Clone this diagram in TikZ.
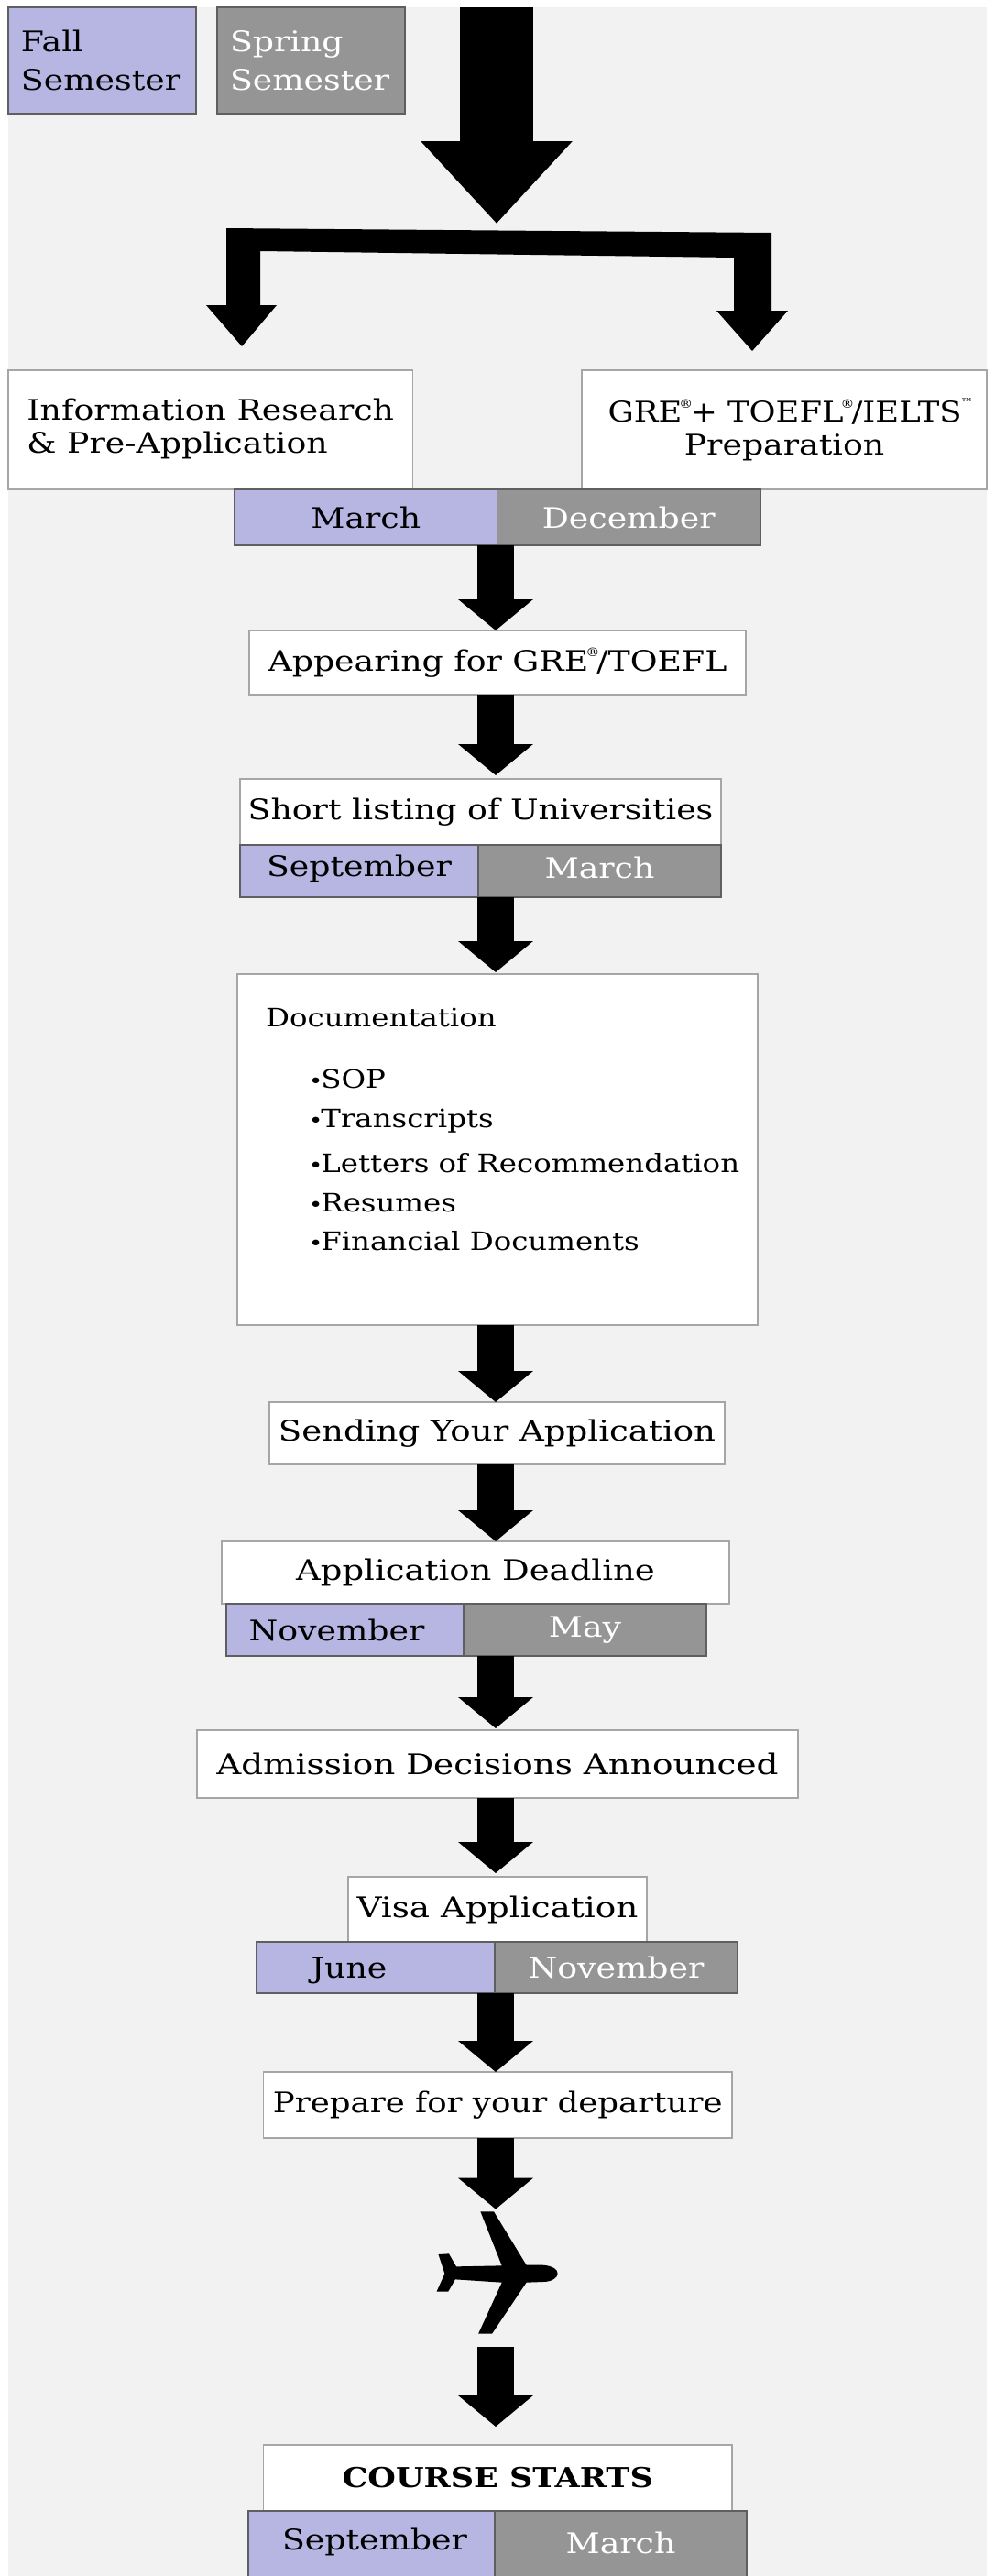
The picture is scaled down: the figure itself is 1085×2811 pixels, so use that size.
\documentclass[tikz,border=0pt]{standalone}
\usepackage{fontspec}
\setmainfont{DejaVu Serif}[FakeStretch=1.17]
\usetikzlibrary{arrows.meta}
\definecolor{bgpanel}{HTML}{F2F2F2}
\definecolor{fallc}{HTML}{B7B6E3}
\definecolor{springc}{HTML}{959595}
\definecolor{wline}{HTML}{A6A6A6}
\definecolor{dline}{HTML}{5F5F5F}
\newcommand{\fs}[2]{\fontsize{#1}{#2}\selectfont}
\newcommand{\regm}{\kern-3pt\raisebox{.5em}{\fontsize{13}{13}\selectfont ®}\kern-3pt}
\newcommand{\tmm}{\kern-1pt\raisebox{.55em}{\fontsize{12}{12}\selectfont ™}}
\newcommand{\blt}{{\fontsize{22}{22}\selectfont •}\kern-2pt}
\newcommand{\widen}[2]{\scalebox{#1}[1]{#2}}
\tikzset{
  x=1pt,y=-1pt,
  wbox/.style={draw=wline,fill=white,line width=1.5pt,inner sep=0pt,outer sep=0pt,text=black,font=\fs{31}{35},align=center},
  fall/.style={draw=dline,fill=fallc,line width=1.5pt,inner sep=0pt,outer sep=0pt,text=black,font=\fs{31}{35},align=center,text height=23pt,text depth=7pt},
  spring/.style={draw=dline,fill=springc,line width=1.5pt,inner sep=0pt,outer sep=0pt,text=white,font=\fs{31}{35},align=center,text height=23pt,text depth=7pt},
  legendtext/.style={minimum width=205pt,minimum height=116pt,text height={},text depth={},text width=177pt,align=left,anchor=north west,font=\fs{31}{42}},
  flow/.style={line width=40pt,draw=black,-{Triangle[length=34pt,width=80pt]}},
  listing/.style={inner sep=0pt,anchor=base west,font=\fs{27.7}{30}},
  lower/.style={text height=30pt},
  upper/.style={text depth=14pt},
  slightup/.style={text depth=11pt},
  loweredtext/.style={text height=54pt,text depth=7pt},
}
\newcommand{\bx}[7]{\node[#1,minimum width={(#5)-(#4)},minimum height={(#7)-(#6)}] (#2) at ({((#4)+(#5))/2},{((#6)+(#7))/2}) {#3};}
\begin{document}
\begin{tikzpicture}
\useasboundingbox (0,0) rectangle (1085,2811);
\fill[white] (0,0) rectangle (1085,2811);
\fill[bgpanel] (9,8) rectangle (1077,2811);
% legend
\node[fall,legendtext] (legf) at (9,8) {Fall\\Semester};
\node[spring,legendtext] (legs) at (237,8) {Spring\\Semester};
% top arrow and fork
\coordinate (axis) at (541,0);
\coordinate (topstart) at (542,8);
\coordinate (topend) at (542,244);
\draw[line width=80pt,-{Triangle[length=90pt,width=160pt]}] (topstart) -- (topend);
\fill[black] (247,249) -- (842,254) -- (842,339) -- (860,339) -- (821,383) -- (782,339) -- (801,339) -- (801,281) -- (284,274) -- (284,333) -- (302,333) -- (264,378) -- (225,333) -- (247,333) -- cycle;
% boxes
\bx{wbox}{info}{\raisebox{-3pt}{\begin{tabular}{@{}l@{}}Information Research\\[1pt]\& Pre-Application\end{tabular}}}{9}{450.5}{404}{534}
\bx{wbox}{gre}{\hspace*{14pt}\widen{0.975}{GRE\regm{}+ TOEFL\regm{}/IELTS\tmm}\\[1pt]Preparation}{635}{1077}{404}{534}
\bx{fall,lower}{m1}{March}{256}{542.5}{534}{595}
\bx{spring,lower}{d1}{December}{542.5}{830}{534}{595}
\bx{wbox}{appear}{Appearing for GRE\regm{}/TOEFL}{272}{814}{688}{758}
\bx{wbox}{short}{Short listing of Universities}{262}{787}{850}{922}
\bx{fall,slightup}{s2}{September}{262}{522}{922}{979}
\bx{spring}{m2}{March}{522}{787}{922}{979}
\bx{wbox}{doc}{}{259}{827}{1063}{1446}
\node[listing] (doctitle) at (290,1120) {Documentation};
\node[listing] (li1) at (337,1187) {\blt SOP};
\node[listing] (li2) at (337,1230) {\blt Transcripts};
\node[listing] (li3) at (337,1279) {\blt Letters of Recommendation};
\node[listing] (li4) at (337,1322) {\blt Resumes};
\node[listing] (li5) at (337,1364) {\blt Financial Documents};
\bx{wbox}{send}{\widen{1.023}{Sending Your Application}}{294}{791}{1530}{1598}
\bx{wbox}{dead}{\widen{1.02}{Application Deadline}}{242}{796}{1682}{1750}
\bx{fall,lower}{n3}{November\hspace*{18pt}}{247}{506}{1750}{1807}
\bx{spring}{m3}{May}{506}{771}{1750}{1807}
\bx{wbox}{admit}{\widen{1.03}{Admission Decisions Announced}}{215}{871}{1888}{1962}
\bx{wbox}{visa}{\widen{1.03}{Visa Application}}{380}{706}{2048}{2119}
\bx{fall,lower}{j4}{June\hspace*{58pt}}{280}{540}{2119}{2175}
\bx{spring,lower}{n4}{November}{540}{805}{2119}{2175}
\bx{wbox}{prep}{\widen{0.98}{Prepare for your departure}}{287.5}{799}{2261}{2333}
\bx{wbox}{course}{\fontsize{30}{34}\selectfont\bfseries COURSE STARTS}{287.5}{799}{2668}{2740}
\bx{fall,upper}{s5}{\hspace*{7pt}September}{271}{540}{2740}{2816}
\bx{spring}{m5}{March}{540}{815}{2740}{2816}
% plane
\begin{scope}[shift={(250,2320)},x=1pt/2.613,y=-1pt/3]
\coordinate (planetop) at (737,272);
\coordinate (planebot) at (762,723);
\fill[black] (717,280) -- (755,280) -- (848,455) -- (895,455) .. controls (925,458) and (937,470) .. (937,483) .. controls (937,497) and (920,510) .. (895,510) -- (848,512) -- (750,680) -- (711,680) -- (778,512) -- (645,502) -- (625,542) -- (592,542) -- (615,483) -- (597,420) -- (627,418) -- (648,460) -- (778,457) -- cycle;
\end{scope}
% connectors
\draw[flow] (axis |- d1.south) -- (axis |- appear.north);
\draw[flow,shorten >=4pt] (axis |- appear.south) -- (axis |- short.north);
\draw[flow,shorten >=2pt] (axis |- m2.south) -- (axis |- doc.north);
\draw[flow] (axis |- doc.south) -- (axis |- send.north);
\draw[flow] (axis |- send.south) -- (axis |- dead.north);
\draw[flow,shorten >=2pt] (axis |- m3.south) -- (axis |- admit.north);
\draw[flow,shorten >=4pt] (axis |- admit.south) -- (axis |- visa.north);
\draw[flow] (axis |- n4.south) -- (axis |- prep.north);
\draw[flow] (axis |- prep.south) -- (axis |- planetop);
\draw[flow] (axis |- planebot) -- ([yshift=20pt]axis |- course.north);
\end{tikzpicture}
\end{document}
